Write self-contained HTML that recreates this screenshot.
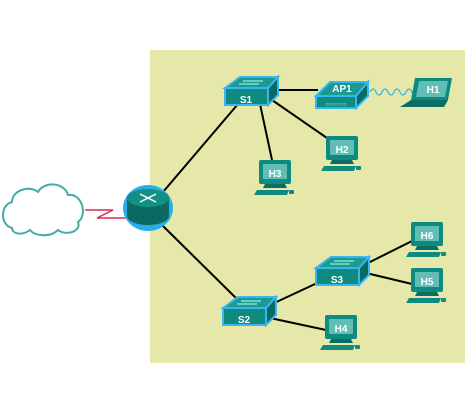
<!DOCTYPE html>
<html><head><style>
html,body{margin:0;padding:0;background:#fff;}
svg{display:block;}
text{font-family:"Liberation Sans",sans-serif;font-weight:bold;fill:#fff;text-anchor:middle;}
</style></head><body>
<svg width="470" height="400" viewBox="0 0 470 400">
<defs>
<g id="pc">
<rect x="0" y="0" width="32" height="24" rx="2" fill="#0e8a80"/>
<rect x="4" y="4" width="24" height="15" fill="#62bdb5"/>
<polygon points="6,24 26,24 28,28 4,28" fill="#0a6e66"/>
<polygon points="-2,30 30,30 28,35 -5,35" fill="#0e8a80"/>
<rect x="30" y="30" width="5" height="4" rx="1" fill="#0e8a80"/>
</g>
<g id="sw">
<polygon points="0,11 15,0 53,0 43,11" fill="#1a9a90" stroke="#37b6f0" stroke-width="2"/>
<rect x="0" y="11" width="43" height="17" fill="#0f8a80" stroke="#37b6f0" stroke-width="2"/>
<polygon points="43,11 53,0 53,18 43,28" fill="#0a6a62" stroke="#37b6f0" stroke-width="2"/>
<line x1="18" y1="4" x2="38" y2="4" stroke="#bfe" stroke-width="1"/>
<line x1="14" y1="7" x2="34" y2="7" stroke="#bfe" stroke-width="1"/>
</g>
</defs>
<rect x="150" y="50" width="315" height="313" fill="#e6e8a9"/>
<g stroke="#000" stroke-width="2">
<line x1="163" y1="192" x2="238" y2="104"/>
<line x1="163" y1="226" x2="240" y2="302"/>
<line x1="276" y1="90" x2="318" y2="90"/>
<line x1="260" y1="104" x2="272" y2="160"/>
<line x1="272" y1="100" x2="327" y2="138"/>
<line x1="270" y1="305" x2="330" y2="277"/>
<line x1="270" y1="318" x2="326" y2="330"/>
<line x1="368" y1="263" x2="412" y2="241"/>
<line x1="366" y1="273" x2="412" y2="284"/>
</g>
<polyline points="85,210 113,210 97,218 128,218" fill="none" stroke="#d4304a" stroke-width="1.5"/>
<path d="M12,228 C0,225 0,205 12,202 C12,190 30,185 38,192 C45,180 65,183 68,195 C82,193 88,215 78,222 C82,232 65,236 58,230 C50,238 35,236 30,230 C22,236 12,234 12,228 Z" fill="#fff" stroke="#46aaa6" stroke-width="2"/>
<ellipse cx="148" cy="208" rx="25" ry="23" fill="#2aaee8"/>
<rect x="127" y="198" width="42" height="18" fill="#0a6a62"/>
<ellipse cx="148" cy="216" rx="21" ry="9" fill="#0a6a62"/>
<ellipse cx="148" cy="198" rx="21" ry="9" fill="#148f86"/>
<g stroke="#fff" stroke-width="1.5"><line x1="140" y1="194" x2="156" y2="202"/><line x1="156" y1="194" x2="140" y2="202"/></g>
<use href="#sw" x="225" y="77"/><text x="246" y="103" font-size="10">S1</text>
<use href="#sw" x="223" y="297"/><text x="244" y="323" font-size="10">S2</text>
<use href="#sw" x="316" y="257"/><text x="337" y="283" font-size="10">S3</text>
<polygon points="316,96 330,82 368,82 356,96" fill="#1a9a90" stroke="#37b6f0" stroke-width="2"/>
<rect x="316" y="96" width="40" height="12" fill="#0f8a80" stroke="#37b6f0" stroke-width="2"/>
<polygon points="356,96 368,82 368,96 356,108" fill="#0a6a62" stroke="#37b6f0" stroke-width="2"/>
<text x="342" y="92" font-size="10">AP1</text>
<text x="336" y="106" font-size="6" fill="#bfe" style="font-weight:normal;fill:#bfe">○○○○○○</text>
<path d="M370,92 q3,-6 6,0 q3,6 6,0 q3,-6 6,0 q3,6 6,0 q3,-6 6,0 q3,6 6,0 q3,-6 6,0 q3,6 6,0" fill="none" stroke="#3ab0e0" stroke-width="1.3"/>
<polygon points="415,78 452,78 448,100 411,100" fill="#0e8a80"/>
<polygon points="419,81 448,81 445,97 416,97" fill="#62bdb5"/>
<polygon points="411,100 448,100 444,107 400,107" fill="#0a6e66"/>
<text x="433" y="93" font-size="10">H1</text>
<use href="#pc" x="326" y="136"/><text x="342" y="153" font-size="10">H2</text>
<use href="#pc" x="259" y="160"/><text x="275" y="177" font-size="10">H3</text>
<use href="#pc" x="411" y="222"/><text x="427" y="239" font-size="10">H6</text>
<use href="#pc" x="411" y="268"/><text x="427" y="285" font-size="10">H5</text>
<use href="#pc" x="325" y="315"/><text x="341" y="332" font-size="10">H4</text>
</svg>
</body></html>
